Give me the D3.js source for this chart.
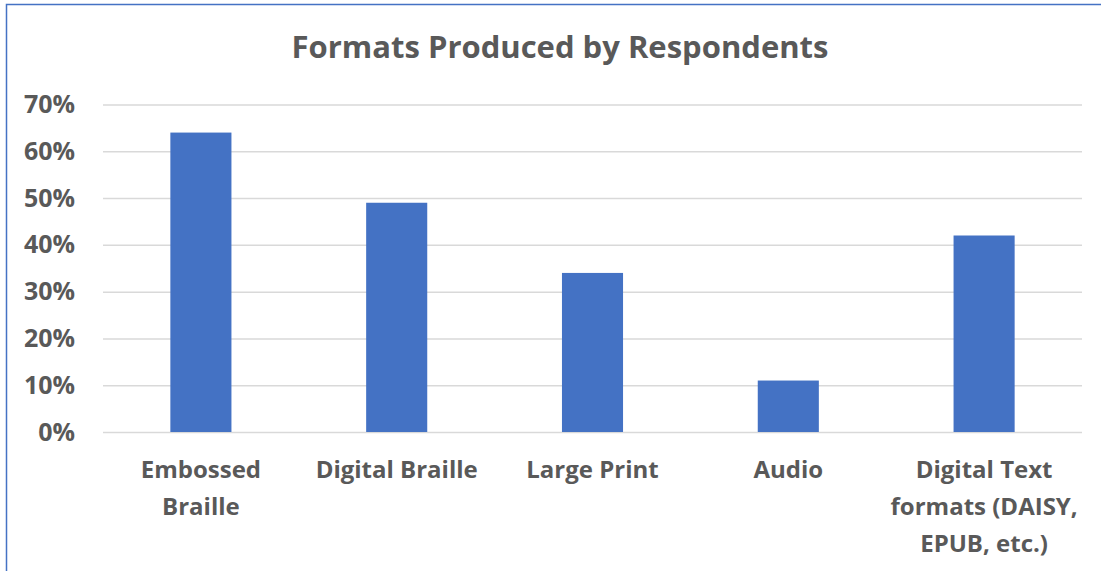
<!DOCTYPE html>
<html>
<head>
<meta charset="utf-8">
<script src="https://cdn.jsdelivr.net/npm/d3@7"></script>
<style>
  body { margin: 0; background: #fff; }
  text { font-family: "Open Sans", Lato, sans-serif; font-weight: bold; fill: #595959; }
</style>
</head>
<body>
<div id="chart"></div>
<script>
// Chart data
const categories = [["Embossed", "Braille"], ["Digital Braille"], ["Large Print"], ["Audio"], ["Digital Text", "formats (DAISY,", "EPUB, etc.)"]];
const values = [0.64, 0.49, 0.34, 0.11, 0.42];
const yTicks = [0, 0.1, 0.2, 0.3, 0.4, 0.5, 0.6, 0.7];

const W = 1101, H = 571;
const margin = {top: 104.5, right: 19, bottom: 139, left: 103};
const width = W - margin.left - margin.right;
const height = H - margin.top - margin.bottom;

const svg = d3.select("#chart").append("svg")
  .attr("width", W)
  .attr("height", H);

// outer border (only left & top show in the crop)
svg.append("rect")
  .attr("x", 6.5).attr("y", 4.5)
  .attr("width", W + 20).attr("height", H + 20)
  .attr("fill", "none")
  .attr("stroke", "#4472C4")
  .attr("stroke-width", 1.5);

svg.append("text")
  .attr("x", 560).attr("y", 58)
  .attr("text-anchor", "middle")
  .style("font-size", "31px")
  .text("Formats Produced by Respondents");

const g = svg.append("g").attr("transform", `translate(${margin.left},${margin.top})`);

const x = d3.scaleBand().domain(d3.range(values.length)).range([0, width]).padding(0);
const y = d3.scaleLinear().domain([0, 0.7]).range([height, 0]);

// gridlines
g.append("g")
  .call(d3.axisLeft(y).tickValues(yTicks).tickSize(-width).tickFormat(""))
  .call(a => a.select(".domain").remove())
  .call(a => a.selectAll("line").attr("stroke", "#d9d9d9").attr("stroke-width", 1.5));

// y labels
g.append("g")
  .call(d3.axisLeft(y).tickValues(yTicks).tickSize(0).tickPadding(28).tickFormat(d3.format(".0%")))
  .call(a => a.select(".domain").remove())
  .call(a => a.selectAll("text").style("font-size", "25px").attr("fill", "#595959"));

// bars
const barW = x.bandwidth() * 0.312;
g.selectAll(".bar")
  .data(values)
  .join("rect")
  .attr("x", (d, i) => x(i) + x.bandwidth() / 2 - barW / 2)
  .attr("y", d => y(d))
  .attr("width", barW)
  .attr("height", d => height - y(d))
  .attr("fill", "#4472C4");

// category labels
const lab = g.selectAll(".cat")
  .data(categories)
  .join("text")
  .attr("text-anchor", "middle")
  .attr("transform", (d, i) => `translate(${x(i) + x.bandwidth() / 2},${height + 46})`)
  .style("font-size", "24px");
lab.selectAll("tspan")
  .data(d => d)
  .join("tspan")
  .attr("x", 0)
  .attr("dy", (d, i) => i === 0 ? 0 : 37)
  .text(d => d);
</script>
</body>
</html>
